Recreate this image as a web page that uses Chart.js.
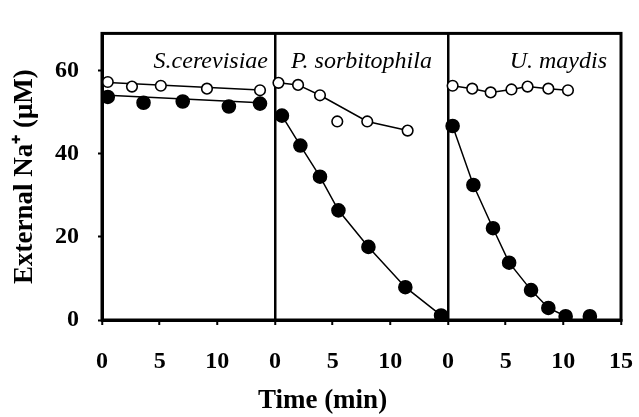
<!DOCTYPE html>
<html>
<head>
<meta charset="utf-8">
<script src="https://cdn.jsdelivr.net/npm/chart.js@4.4.1/dist/chart.umd.min.js"></script>
<style>
  html, body { margin: 0; padding: 0; background: #fff; }
  #wrap { width: 639px; height: 417px; }
</style>
</head>
<body>
<div id="wrap"><canvas id="myCanvas"></canvas></div>
<script>
// three panels, each 0-15 min, put side by side on one x axis
const panelNames = ['S.cerevisiae', 'P. sorbitophila', 'U. maydis'];
const panelSpan = 15;
const yTicks = [0, 20, 40, 60];
const xTitle = 'Time (min)';

// S. cerevisiae
const scOpenT = [0.5, 2.6, 5.1, 9.1, 13.7];
const scOpenV = [57.3, 56.2, 56.4, 55.7, 55.3];
const scFilledT = [0.5, 3.6, 7.0, 11.0, 13.7];
const scFilledV = [53.7, 52.3, 52.6, 51.4, 52.1];
// fitted lines
const scOpenLineT = [0.5, 13.7];
const scOpenLineV = [57.2, 55.4];
const scFilledLineT = [0.5, 13.7];
const scFilledLineV = [54.1, 52.3];

// P. sorbitophila
const psOpenT = [0.3, 2.0, 3.9, 5.4, 8.0, 11.5];
const psOpenV = [57.1, 56.6, 54.1, 47.8, 47.8, 45.6];
const psFilledT = [0.6, 2.2, 3.9, 5.5, 8.1, 11.3, 14.4];
const psFilledV = [49.2, 42.0, 34.5, 26.4, 17.6, 7.9, 1.1];
const psOpenLineT = [0.3, 2.0, 3.9, 8.0, 11.5];
const psOpenLineV = [57.1, 56.6, 54.1, 47.8, 45.6];
const psFilledLineT = psFilledT;
const psFilledLineV = psFilledV;

// U. maydis
const umOpenT = [0.4, 2.1, 3.7, 5.5, 6.9, 8.7, 10.4];
const umOpenV = [56.4, 55.7, 54.8, 55.5, 56.2, 55.7, 55.3];
const umFilledT = [0.4, 2.2, 3.9, 5.3, 7.2, 8.7, 10.2, 12.3];
const umFilledV = [46.7, 32.5, 22.1, 13.8, 7.2, 2.9, 0.9, 0.9];
const umOpenLineT = umOpenT;
const umOpenLineV = umOpenV;
const umFilledLineT = [0.4, 2.2, 3.9, 5.3, 7.2, 8.7, 10.2];
const umFilledLineV = [46.7, 32.5, 22.1, 13.8, 7.2, 2.9, 0.9];

function pts(panel, t, v) {
   return t.map(function(x, i) {
      return { x: panel * panelSpan + x, y: v[i] };
   });
}

function lineSet(panel, t, v) {
   return {
      data: pts(panel, t, v),
      showLine: true,
      borderColor: '#000',
      borderWidth: 1.5,
      pointRadius: 0,
      order: 2
   };
}

function markSet(panel, t, v, filled) {
   return {
      data: pts(panel, t, v),
      showLine: false,
      pointRadius: filled ? 6.5 : 5.3,
      pointBorderWidth: 1.6,
      pointBackgroundColor: filled ? '#000' : '#fff',
      pointBorderColor: '#000',
      order: 1
   };
}

const datasets = [
   lineSet(0, scOpenLineT, scOpenLineV),
   lineSet(0, scFilledLineT, scFilledLineV),
   lineSet(1, psOpenLineT, psOpenLineV),
   lineSet(1, psFilledLineT, psFilledLineV),
   lineSet(2, umOpenLineT, umOpenLineV),
   lineSet(2, umFilledLineT, umFilledLineV),
   markSet(0, scOpenT, scOpenV, false),
   markSet(0, scFilledT, scFilledV, true),
   markSet(1, psOpenT, psOpenV, false),
   markSet(1, psFilledT, psFilledV, true),
   markSet(2, umOpenT, umOpenV, false),
   markSet(2, umFilledT, umFilledV, true)
];

const serif = '"Liberation Serif", "Times New Roman", serif';

// frame round the plot, species names and the x title (centred on the page)
const framePlugin = {
   id: 'frame',
   afterDraw: function(chart) {
      const c = chart.ctx;
      const a = chart.chartArea;
      const xs = chart.scales.x;
      c.save();
      c.strokeStyle = '#000';
      c.lineWidth = 3;
      c.strokeRect(a.left, a.top, a.right - a.left, a.bottom - a.top);
      c.fillStyle = '#000';
      c.font = 'italic 24px ' + serif;
      c.textBaseline = 'middle';
      const ty = a.top + 28;
      c.textAlign = 'right';
      c.fillText(panelNames[0], xs.getPixelForValue(panelSpan) - 7, ty);
      c.textAlign = 'center';
      c.fillText(panelNames[1], xs.getPixelForValue(panelSpan * 1.5), ty);
      c.textAlign = 'right';
      c.fillText(panelNames[2], xs.getPixelForValue(panelSpan * 3) - 14, ty);
      c.font = 'bold 27px ' + serif;
      c.textAlign = 'center';
      c.fillText(xTitle, chart.width / 2 + 3, chart.height - 16);
      c.restore();
   }
};

const tickFont = { family: serif, size: 24, weight: 'bold' };
const titleFont = { family: serif, size: 27, weight: 'bold' };

const ctx = document.getElementById('myCanvas').getContext('2d');
const myChart = new Chart(ctx, {
   type: 'scatter',
   data: { datasets: datasets },
   options: {
      responsive: true,
      maintainAspectRatio: false,
      animation: false,
      layout: { padding: { top: 14, right: 18, left: 0, bottom: 0 } },
      plugins: {
         legend: { display: false },
         tooltip: { enabled: false }
      },
      scales: {
         x: {
            type: 'linear',
            min: 0,
            max: panelSpan * 3,
            afterFit: function(s) {
               s.height = 97;
               s.paddingLeft = 0;
               s.paddingRight = 0;
            },
            ticks: {
               stepSize: 5,
               color: '#000',
               font: tickFont,
               padding: 22,
               maxRotation: 0,
               callback: function(v) {
                  return v === panelSpan * 3 ? String(panelSpan) : String(v % panelSpan);
               }
            },
            grid: {
               color: function(c) {
                  const v = c.tick && c.tick.value;
                  return (v === panelSpan || v === panelSpan * 2) ? '#000' : 'rgba(0,0,0,0)';
               },
               lineWidth: 2.5,
               tickColor: '#000',
               tickLength: 5,
               tickWidth: 2
            },
            border: { display: true, color: '#000', width: 3 }
         },
         y: {
            min: 0,
            max: 69,
            afterFit: function(s) { s.width = 102; },
            afterBuildTicks: function(s) {
               s.ticks = yTicks.map(function(v) { return { value: v }; });
            },
            ticks: {
               color: '#000',
               font: tickFont,
               padding: 19
            },
            grid: {
               drawOnChartArea: false,
               tickColor: '#000',
               tickLength: 4,
               tickWidth: 2
            },
            border: { display: true, color: '#000', width: 3 },
            title: {
               display: true,
               text: 'External Na\u207A (\u03BCM)',
               color: '#000',
               font: titleFont,
               padding: { top: 9, bottom: 0 }
            }
         }
      }
   },
   plugins: [framePlugin]
});
</script>
</body>
</html>
